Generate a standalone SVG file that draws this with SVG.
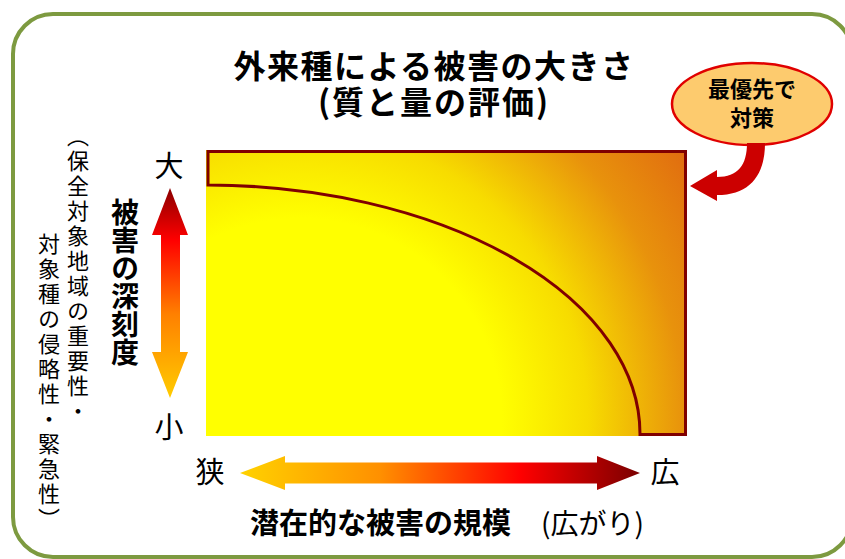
<svg xmlns="http://www.w3.org/2000/svg" width="845" height="559" viewBox="0 0 845 559">
<defs>
<style>
.jp{font-family:"Noto Sans CJK JP","Noto Sans",sans-serif;fill:#000}
.b{font-weight:bold}
.vt{writing-mode:vertical-rl}
</style>
<radialGradient id="gRect" gradientUnits="userSpaceOnUse" cx="300" cy="420" r="480">
<stop offset="0" stop-color="#ffff00"/>
<stop offset="0.42" stop-color="#ffff00"/>
<stop offset="0.6" stop-color="#f7dc00"/>
<stop offset="0.8" stop-color="#e8920c"/>
<stop offset="1" stop-color="#e06810"/>
</radialGradient>
<linearGradient id="gV" gradientUnits="userSpaceOnUse" x1="0" y1="188" x2="0" y2="398">
<stop offset="0" stop-color="#8b0000"/>
<stop offset="0.25" stop-color="#ff0000"/>
<stop offset="0.6" stop-color="#ff8000"/>
<stop offset="1" stop-color="#ffcc00"/>
</linearGradient>
<linearGradient id="gH" gradientUnits="userSpaceOnUse" x1="240" y1="0" x2="640" y2="0">
<stop offset="0" stop-color="#ffd200"/>
<stop offset="0.35" stop-color="#ff9000"/>
<stop offset="0.7" stop-color="#ff0000"/>
<stop offset="1" stop-color="#7a0000"/>
</linearGradient>
</defs>

<rect id="frame" x="13" y="14" width="839" height="543" rx="40" ry="40" fill="#fff" stroke="#7d9a40" stroke-width="4"/>

<g id="title">
<text class="jp b" font-size="32" text-anchor="middle"><tspan x="434" y="78" letter-spacing="1.5">外来種による被害の大きさ</tspan><tspan x="434" y="114" letter-spacing="2">(質と量の評価)</tspan></text>
</g>

<g id="chart">
<rect x="206" y="150" width="481" height="286" fill="url(#gRect)"/>
<path d="M 208 185 L 208 151.5 L 685.5 151.5 L 685.5 434.5 L 640 434.5 A 434 249 0 0 0 208 185 Z" fill="none" stroke="#800000" stroke-width="3" stroke-linejoin="miter"/>
</g>

<g id="priority">
<ellipse cx="752" cy="104" rx="80" ry="41" fill="#fdcb6e" stroke="#e00000" stroke-width="2.5"/>
<text class="jp b" font-size="22" text-anchor="middle"><tspan x="752" y="97">最優先で</tspan><tspan x="752" y="126">対策</tspan></text>
</g>

<g id="connectors">
<path d="M 747 143 L 765 143 C 765 175 750 195 717 195 L 717 201 L 690 186 L 717 170 L 717 177 C 738 177 747 165 747 143 Z" fill="#cc0000"/>
<polygon points="170,188 188,235 180,235 180,352 188,352 170,398 152,352 161,352 161,235 152,235" fill="url(#gV)"/>
<polygon points="240,473 285,456 285,462.5 597,462.5 597,456 640,473 597,490 597,483.5 285,483.5 285,490" fill="url(#gH)"/>
</g>

<g id="axis-labels">
<text class="jp" x="169" y="177" font-size="29" text-anchor="middle">大</text>
<text class="jp" x="169" y="438" font-size="29" text-anchor="middle">小</text>
<text class="jp" x="210" y="483" font-size="29" text-anchor="middle">狭</text>
<text class="jp" x="665" y="483" font-size="29" text-anchor="middle">広</text>
<text class="jp b vt" x="125" y="198" font-size="28">被害の深刻度</text>
<text class="jp vt" x="78" y="125" font-size="22" letter-spacing="3">（保全対象地域の重要性・</text>
<text class="jp vt" x="49" y="233" font-size="22" letter-spacing="3">対象種の侵略性・緊急性）</text>
<text class="jp b" x="250" y="534" font-size="29">潜在的な被害の規模</text>
<text class="jp" x="541" y="534" font-size="28">(広がり)</text>
</g>
</svg>
